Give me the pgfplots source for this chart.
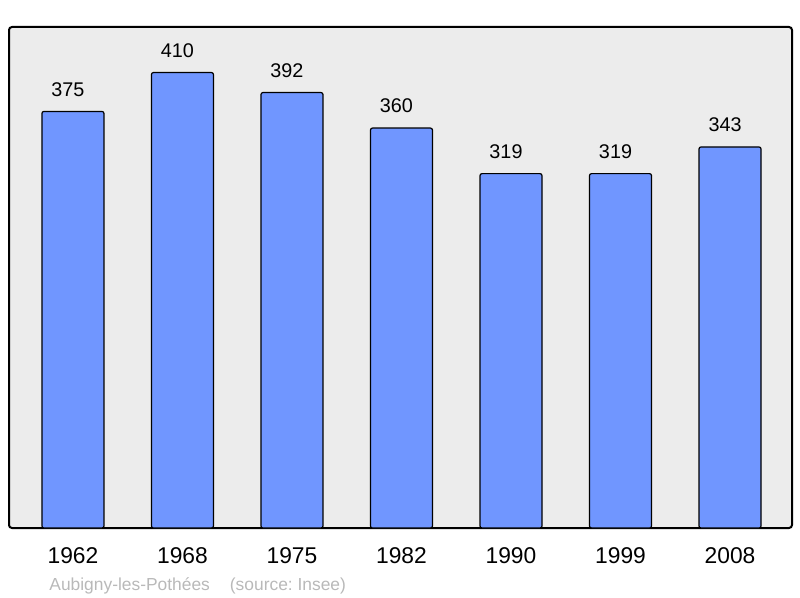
\documentclass[border=0pt]{standalone}
\usepackage{pgfplots}
\pgfplotsset{compat=1.18}
\usepackage{fontspec}
\setmainfont{Liberation Sans}
\definecolor{barfill}{RGB}{112,150,255}
\definecolor{bgc}{RGB}{236,236,236}
\definecolor{srcgray}{RGB}{185,185,185}
\frenchspacing
\begin{document}
\begin{tikzpicture}[x=1bp,y=1bp]
\useasboundingbox (0,0) rectangle (400,299);
\begin{axis}[
  at={(4.5bp,35bp)}, anchor=south west,
  scale only axis,
  width=391.5bp, height=250.5bp,
  xmin=-0.584, xmax=6.566,
  ymin=0, ymax=451,
  axis background/.style={fill=bgc},
  axis line style={line width=1bp, black, rounded corners=1.5bp},
  ybar, bar width=31bp,
  xtick={0,1,2,3,4,5,6},
  xticklabels={1962,1968,1975,1982,1990,1999,2008},
  major tick length=0pt,
  xticklabel style={font=\fontsize{11.4bp}{13bp}\selectfont, anchor=base, yshift=-17.5bp},
  ytick=\empty,
  nodes near coords,
  nodes near coords style={font=\fontsize{9.9bp}{12bp}\selectfont, anchor=center, yshift=11bp, xshift=-2.5bp, black},
  /pgf/number format/assume math mode=true,
  clip=false,
]
\addplot[fill=barfill, draw=black, line width=0.6bp, rounded corners=1bp] coordinates {
(0,375) (1,410) (2,392) (3,360) (4,319) (5,319) (6,343)};
\end{axis}
\node[anchor=base west, text=srcgray, font=\fontsize{8.7bp}{10bp}\selectfont, inner sep=0pt] at (24.5,4) {Aubigny-les-Pothées\hspace{10bp}(source: Insee)};
\end{tikzpicture}
\end{document}
